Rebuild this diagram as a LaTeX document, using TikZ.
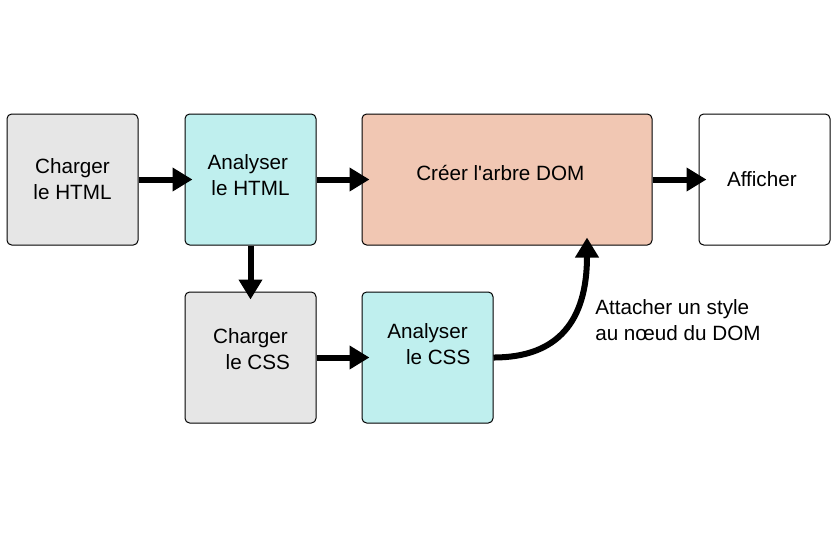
\documentclass[tikz,border=0pt]{standalone}
\usepackage{fontspec}
\setmainfont{Liberation Sans}
\usetikzlibrary{arrows.meta}
\definecolor{loadgray}{HTML}{E6E6E6}
\definecolor{parsecyan}{HTML}{BFEFEE}
\definecolor{domsalmon}{HTML}{F1C7B3}
\begin{document}
\begin{tikzpicture}
        [x=0.75pt, y=-0.75pt,
        font=\fontsize{15.5}{19.5}\selectfont,
        box/.style={draw, line width=0.75pt, rounded corners=3.5pt, align=center,
          minimum width=98.25pt, minimum height=98.25pt, inner sep=0pt},
        load/.style={box, fill=loadgray},
        parse/.style={box, fill=parsecyan},
        flow/.style={line width=4.5pt, black, shorten >=-6pt,
          -{Triangle[length=15pt, width=17pt]}}]

        \useasboundingbox (0,0) rectangle (837,537);

        % boxes
        \node[load] (htmlload) at (72.5,179.5) {Charger\\le HTML};
        \node[parse, text depth=6.5pt] (htmlparse) at (250.5,179.5) {Analyser\hspace*{4pt}\\le HTML};
        \node[box, fill=domsalmon, minimum width=217.5pt, text depth=9.8pt] (dom) at (507,179.5) {Créer l\textquotesingle arbre DOM\hspace*{10pt}};
        \node[box] (show) at (764.5,179.5) {Afficher\hspace*{4pt}};
        \node[load, text depth=12.5pt] (cssload) at (250.5,357.5) {Charger\\\hspace*{11pt}le CSS};
        \node[parse, text depth=21pt] (cssparse) at (427.5,357.5) {Analyser\\\hspace*{16pt}le CSS};

        % label of the curved arrow
        \node[anchor=west, align=left, inner sep=0pt] (attachlbl) at (595,320) {Attacher un style\\au nœud du DOM};

        % arrows
        \draw[flow] (htmlload) -- (htmlparse);
        \draw[flow] (htmlparse) -- (dom);
        \draw[flow] (dom) -- (show);
        \draw[flow] (htmlparse) -- (cssload);
        \draw[flow] (cssload) -- (cssparse);
        \draw[flow] (cssparse.east) .. controls +(65,0) and +(0,75) .. ([xshift=60pt]dom.south);

    \end{tikzpicture}
\end{document}
